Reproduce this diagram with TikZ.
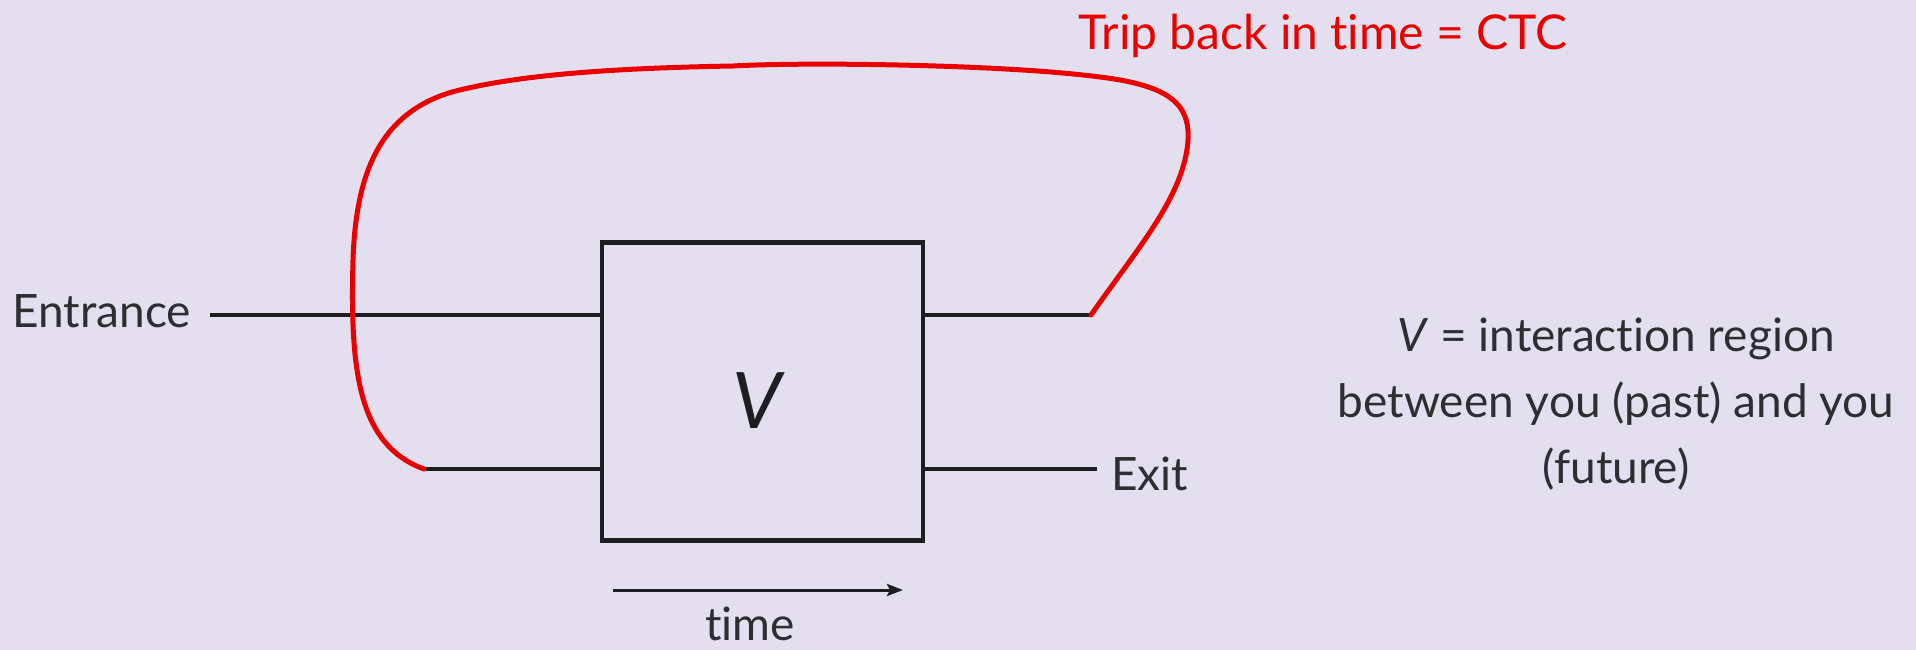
\documentclass[tikz,border=0pt]{standalone}
\usepackage{fontspec}
\setmainfont{Lato}[Ligatures={NoCommon}]
\usetikzlibrary{arrows.meta}
\definecolor{bg}{RGB}{227,223,238}
\definecolor{ink}{RGB}{30,30,34}
\definecolor{txt}{RGB}{45,45,50}
\definecolor{ctc}{RGB}{235,0,0}
\begin{document}
\begin{tikzpicture}[x=1pt,y=-1pt,
  wire/.style={draw=ink,line width=3.5pt},
  lbl/.style={text=txt,font=\fontsize{46}{66}\selectfont,inner sep=0pt},
  redline/.style={draw=ctc,line width=5pt,line cap=round}]
\fill[bg] (0,0) rectangle (1916,650);
\useasboundingbox (0,0) rectangle (1916,650);
% box
\node[draw=ink,line width=4.5pt,minimum width=321pt,minimum height=298pt,inner sep=0pt] (box) at (762.5,391.5) {};
\node[text=ink,font=\fontsize{78}{84}\selectfont\itshape,inner sep=0pt] (V) at (757,401) {\textit{V}};
% labels
\node[lbl,anchor=east] (entr) at (191,311) {Entrance};
\node[lbl,anchor=west] (exit) at (1111,474) {Exit};
\node[lbl,align=center] (desc) at (1616,404) {\textit{V} = interaction region\\between you (past) and you\\(future)};
\node[lbl,text=ctc,font=\fontsize{48}{56}\selectfont] (trip) at (1323,36) {Trip back in time = CTC};
\node[lbl] (time) at (750,624) {time};
% coordinates
\coordinate (inA) at (box.west |- 0,315);
\coordinate (inB) at (box.west |- 0,469);
\coordinate (outA) at (box.east |- 0,315);
\coordinate (outB) at (box.east |- 0,469);
\coordinate (entrStart) at (210,315);
\coordinate (loopEnd) at (1091,315);
\coordinate (loopStart) at (424,469);
\coordinate (exitEnd) at (1097,469);
\coordinate (t0) at (613,590);
\coordinate (t1) at (903,590);
% wires
\draw[wire] (entrStart) -- (inA);
\draw[wire] (loopStart) -- (inB);
\draw[wire] (outA) -- (loopEnd);
\draw[wire] (outB) -- (exitEnd);
% time arrow
\draw[draw=ink,line width=3pt,-{Stealth[length=16pt,width=12pt,inset=3pt]}] (t0) -- (t1);
% CTC loop
\draw[redline] (loopEnd) .. controls (1135,252) and (1176,205) .. (1186,155)
  .. controls (1196,105) and (1172,86) .. (1100,77)
  .. controls (1000,64) and (800,62) .. (733,66)
  .. controls (620,68) and (520,74) .. (452,92)
  .. controls (385,112) and (356,165) .. (353,260)
  .. controls (350,370) and (358,445) .. (loopStart);
\end{tikzpicture}
\end{document}
